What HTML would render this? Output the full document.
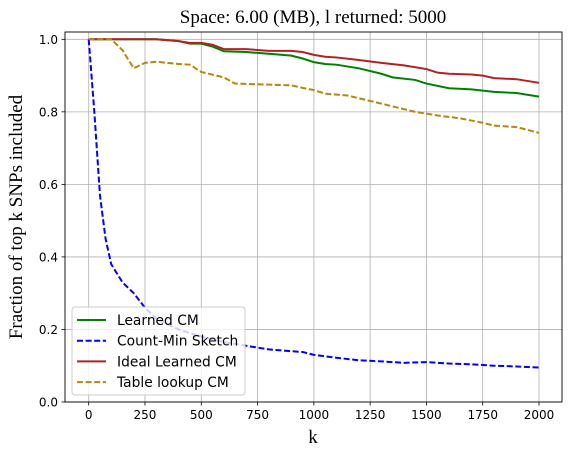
<!DOCTYPE html>
<html><head><meta charset="utf-8"><style>
body{margin:0;background:#fff}
svg text{font-family:"DejaVu Sans",sans-serif;font-size:12px;fill:#000}
.serif{font-family:"Liberation Serif",serif!important;font-size:19px!important}
.leg{font-size:13.8px!important}
</style></head><body>
<svg id="c" width="571" height="459" xmlns="http://www.w3.org/2000/svg"></svg>
<script>
const xTicks=[0,250,500,750,1000,1250,1500,1750,2000];
const yTicks=[0,0.2,0.4,0.6,0.8,1.0];
const yTickLabels=["0.0","0.2","0.4","0.6","0.8","1.0"];
const seriesNames=["Learned CM","Count-Min Sketch","Ideal Learned CM","Table lookup CM"];
const learnedK=[0,300,400,450,500,550,600,700,800,900,950,1000,1050,1100,1200,1300,1350,1450,1500,1600,1700,1800,1900,2000];
const learnedV=[1,1,0.995,0.988,0.988,0.98,0.967,0.965,0.96,0.955,0.947,0.937,0.932,0.93,0.92,0.905,0.895,0.888,0.878,0.865,0.862,0.855,0.852,0.842];
const cmsK=[0,25,50,75,100,150,200,250,300,400,500,600,700,800,900,950,1000,1100,1200,1300,1400,1500,1600,1700,1800,1900,2000];
const cmsV=[1,0.8,0.57,0.45,0.38,0.33,0.3,0.26,0.23,0.2,0.18,0.165,0.155,0.145,0.14,0.138,0.13,0.122,0.115,0.112,0.108,0.11,0.106,0.104,0.1,0.098,0.095];
const idealK=[0,300,400,450,500,550,600,700,800,900,950,1000,1050,1100,1200,1300,1400,1500,1550,1600,1700,1750,1800,1900,2000];
const idealV=[1,1,0.995,0.99,0.99,0.985,0.973,0.973,0.968,0.968,0.965,0.957,0.952,0.95,0.943,0.935,0.928,0.918,0.908,0.905,0.903,0.9,0.893,0.89,0.88];
const tableK=[0,100,150,200,250,300,400,450,500,600,650,750,900,950,1000,1050,1150,1250,1350,1450,1550,1650,1750,1800,1900,2000];
const tableV=[1,1,0.97,0.92,0.935,0.938,0.932,0.93,0.91,0.895,0.878,0.876,0.873,0.866,0.86,0.85,0.845,0.83,0.815,0.8,0.79,0.782,0.77,0.762,0.758,0.742];

const L=65,R=562,T=32,B=402;
const X=k=>88.7+k*(539-88.7)/2000;
const Y=v=>402-v*(402-39.3);
const svg=document.getElementById('c');
const NS="http://www.w3.org/2000/svg";
function mk(tag,at,parent){const e=document.createElementNS(NS,tag);for(const a in at)e.setAttribute(a,at[a]);(parent||svg).appendChild(e);return e;}

xTicks.forEach(t=>{
 const g=mk('line',{x1:X(t),x2:X(t),y1:T,y2:B,stroke:'#b0b0b0','stroke-width':0.8});
 
 
 mk('line',{x1:X(t),x2:X(t),y1:B,y2:B+3.5,stroke:'#000','stroke-width':0.8});
 const tx=mk('text',{x:X(t),y:B+17,'text-anchor':'middle'});tx.textContent=t;
 
 
});
yTicks.forEach((t,i)=>{
 const g=mk('line',{x1:L,x2:R,y1:Y(t),y2:Y(t),stroke:'#b0b0b0','stroke-width':0.8});
 
 
 mk('line',{x1:L-3.5,x2:L,y1:Y(t),y2:Y(t),stroke:'#000','stroke-width':0.8});
 const tx=mk('text',{x:L-7,y:Y(t)+4.5,'text-anchor':'end'});tx.textContent=yTickLabels[i];
 
 
});
const styles=[{c:'#008000',d:''},{c:'#0000ff',d:'6,2.6'},{c:'#b22222',d:''},{c:'#b8860b',d:'6,2.6'}];
const data=[[learnedK,learnedV],[cmsK,cmsV],[idealK,idealV],[tableK,tableV]];
const lineNames=['learned-cm-line','count-min-line','ideal-learned-cm-line','table-lookup-line'];
data.forEach((s,i)=>{
 const p=mk('polyline',{points:s[0].map((k,j)=>X(k)+','+Y(s[1][j])).join(' '),fill:'none',stroke:styles[i].c,'stroke-width':2,'stroke-dasharray':styles[i].d});
 
 
});
const fr=mk('rect',{x:L,y:T,width:R-L,height:B-T,fill:'none',stroke:'#000','stroke-width':0.9});


const lg=mk('g',{});


mk('rect',{x:72,y:307,width:173,height:88,rx:3,fill:'#fff','fill-opacity':0.8,stroke:'#ccc'},lg);
seriesNames.forEach((n,i)=>{
 const yy=320+i*20.7;
 mk('line',{x1:77,x2:106,y1:yy,y2:yy,stroke:styles[i].c,'stroke-width':2,'stroke-dasharray':styles[i].d},lg);
 const t=mk('text',{x:117,y:yy+5,class:'leg'},lg);t.textContent=n;
 
 
});
const title=mk('text',{x:313,y:23,'text-anchor':'middle',class:'serif'});title.textContent='Space: 6.00 (MB), l returned: 5000';


const xl=mk('text',{x:313,y:443,'text-anchor':'middle',class:'serif'});xl.textContent='k';


const yl=mk('text',{x:0,y:0,'text-anchor':'middle',class:'serif',transform:'translate(22,217) rotate(-90)'});yl.textContent='Fraction of top k SNPs included';


</script>
</body></html>
